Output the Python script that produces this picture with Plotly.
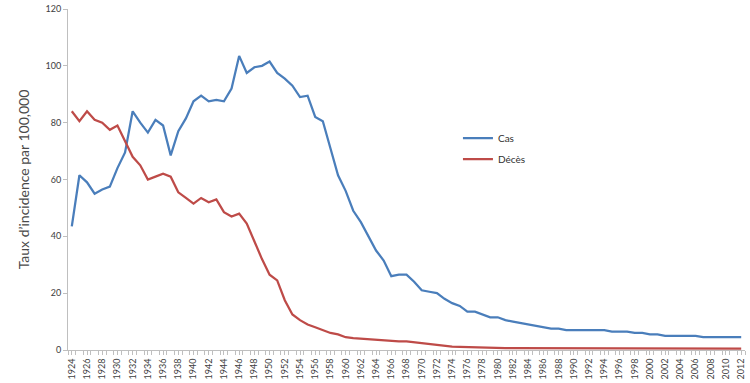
import plotly.graph_objects as go

years = list(range(1924, 2013))

cas = [43.5, 61.5, 59, 55, 56.5, 57.5, 64, 69.5, 84, 80,
       76.5, 81, 79, 68.5, 77, 81.5, 87.5, 89.5, 87.5, 88,
       87.5, 92, 103.5, 97.5, 99.5, 100, 101.5, 97.5, 95.5, 93,
       89, 89.5, 82, 80.5, 71, 61.5, 56, 49, 45, 40,
       35, 31.5, 26, 26.5, 26.5, 24, 21, 20.5, 20, 18,
       16.5, 15.5, 13.5, 13.5, 12.5, 11.5, 11.5, 10.5, 10, 9.5,
       9, 8.5, 8, 7.5, 7.5, 7, 7, 7, 7, 7,
       7, 6.5, 6.5, 6.5, 6, 6, 5.5, 5.5, 5, 5,
       5, 5, 5, 4.5, 4.5, 4.5, 4.5, 4.5, 4.5]

deces = [84, 80.5, 84, 81, 80, 77.5, 79, 73.5, 68, 65,
         60, 61, 62, 61, 55.5, 53.5, 51.5, 53.5, 52, 53,
         48.5, 47, 48, 44.5, 38, 32, 26.5, 24.5, 17.5, 12.5,
         10.5, 9, 8, 7, 6, 5.5, 4.5, 4.2, 4, 3.8,
         3.5, 3.3, 3.2, 3, 3, 2.7, 2.3, 2, 1.7, 1.4,
         1.2, 1.1, 1, 0.9, 0.8, 0.8, 0.8, 0.7, 0.7, 0.7,
         0.7, 0.7, 0.7, 0.6, 0.6, 0.6, 0.6, 0.6, 0.6, 0.6,
         0.6, 0.6, 0.6, 0.6, 0.6, 0.5, 0.5, 0.5, 0.5, 0.5,
         0.5, 0.5, 0.5, 0.5, 0.5, 0.5, 0.5, 0.5, 0.5]

tick_years = list(range(1924, 2013, 2))
tick_text = [str(y) for y in tick_years]
y_ticks = [0, 20, 40, 60, 80, 100, 120]

fig = go.Figure()
fig.add_trace(go.Scatter(x=years, y=cas, mode="lines", name="Cas", legendgroup="a",
                         line=dict(color="#4A7EBB", width=2.25)))
fig.add_trace(go.Scatter(x=years, y=deces, mode="lines", name="Décès", legendgroup="b",
                         line=dict(color="#BE4B48", width=2.25)))

fig.update_layout(
    width=750, height=383,
    margin=dict(l=68, r=5, t=9, b=33, autoexpand=False),
    paper_bgcolor="white", plot_bgcolor="white",
    font=dict(family="Lato, Open Sans, sans-serif", size=9, color="#404040"),
    showlegend=True,
    legend=dict(x=0.576, y=0.664, xanchor="left", yanchor="top",
                traceorder="grouped", tracegroupgap=2,
                font=dict(size=10, color="#303030"),
                bgcolor="rgba(0,0,0,0)"),
    xaxis=dict(
        range=[1923.5, 2012.5], automargin=False,
        tickmode="array", tickvals=tick_years, ticktext=tick_text,
        tickangle=-90, ticks="outside", ticklen=4, tickcolor="#BFBFBF",
        showline=True, linecolor="#BFBFBF", linewidth=1,
        showgrid=False, zeroline=False,
        minor=dict(dtick=1, tick0=1923.5, ticks="outside", ticklen=4,
                   tickcolor="#BFBFBF", showgrid=False),
        tickfont=dict(size=9, color="#404040"),
    ),
    yaxis=dict(
        range=[0, 120], tickmode="array", tickvals=y_ticks, automargin=False,
        ticks="outside", ticklen=4, tickcolor="#BFBFBF",
        showline=True, linecolor="#BFBFBF", linewidth=1,
        showgrid=False, zeroline=False,
        tickfont=dict(size=9, color="#404040"),
        title=dict(text="Taux d\u2019incidence par 100,000",
                   font=dict(size=14, color="#4a4a4a"), standoff=12),
    ),
)

fig.write_html("out.html", config={"displayModeBar": False},
               post_script="document.body.style.margin='0';document.body.style.padding='0';")
